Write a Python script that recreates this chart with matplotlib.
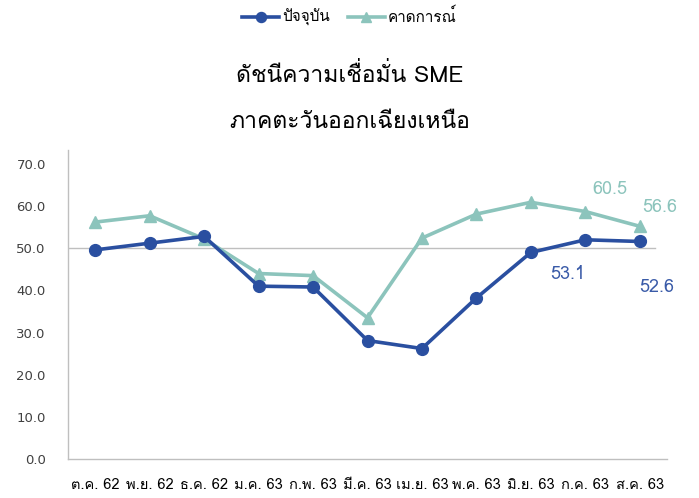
import matplotlib
matplotlib.use("Agg")
import matplotlib.pyplot as plt
from matplotlib import font_manager as fm

# ---------------- data ----------------
categories = ["ต.ค. 62", "พ.ย. 62", "ธ.ค. 62", "ม.ค. 63", "ก.พ. 63", "มี.ค. 63",
              "เม.ย. 63", "พ.ค. 63", "มิ.ย. 63", "ก.ค. 63", "ส.ค. 63"]
current = [49.6, 51.2, 52.8, 41.0, 40.8, 28.1, 26.2, 38.2, 49.0, 52.0, 51.6]
expected = [56.2, 57.7, 52.2, 44.0, 43.5, 33.5, 52.4, 58.1, 60.9, 58.7, 55.2]
current_labels = {9: "53.1", 10: "52.6"}
expected_labels = {9: "60.5", 10: "56.6"}
series_names = ["ปัจจุบัน", "คาดการณ์"]
title_lines = ["ดัชนีความเชื่อมั่น SME", "ภาคตะวันออกเฉียงเหนือ"]
yticks = [0, 10, 20, 30, 40, 50, 60, 70]

# label offsets (points) for data labels
current_offsets = {9: (-13, -24.5), 10: (12, -33)}
expected_offsets = {9: (18, 16), 10: (14.5, 14)}

# ---------------- font with Thai glyphs ----------------
thai_font = None
try:
    from fontTools.ttLib import TTFont
    cands = []
    for f in fm.fontManager.ttflist:
        try:
            tt = TTFont(f.fname, fontNumber=0, lazy=True)
            cmap = tt.getBestCmap()
            if cmap and 0x0E14 in cmap and 0x0E01 in cmap:
                cands.append(f)
        except Exception:
            pass
    def score(f):
        s = 0
        n = f.name.lower()
        if f.weight in (400, "normal", "regular"):
            s -= 5
        if f.style != "normal":
            s += 10
        if "mono" in n or ("serif" in n and "sans" not in n):
            s += 3
        if "looped" in n:
            s += 2
        return s
    cands.sort(key=score)
    if cands:
        thai_font = cands[0].name
except Exception:
    thai_font = None

families = ([thai_font] if thai_font else []) + ["DejaVu Sans"]
plt.rcParams["font.family"] = families

blue = "#2A4FA0"
teal = "#8CC4BC"
gray_txt = "#404040"

fig = plt.figure(figsize=(6.99, 4.98), dpi=100)
ax = fig.add_axes([68/699, 39/498, 599/699, 309/498])

x = list(range(len(categories)))
l1, = ax.plot(x, current, color=blue, lw=2.6, marker="o", markersize=8.5,
              label=series_names[0], zorder=4)
l2, = ax.plot(x, expected, color=teal, lw=2.6, marker="^", markersize=8.5,
              label=series_names[1], zorder=3)

ax.set_xlim(-0.5, len(categories) - 0.5)
ax.set_ylim(0, 73.3)
ax.set_yticks(yticks)
ax.set_yticklabels([f"{v:.1f}" for v in yticks], fontsize=9.5, color=gray_txt,
                   family="DejaVu Sans")
ax.set_xticks(x)
ax.set_xticklabels(categories, fontsize=10.5, color="#000000")
ax.tick_params(axis="both", length=0)
ax.tick_params(axis="y", pad=16)
ax.tick_params(axis="x", pad=14)

ax.axhline(50, color="#BFBFBF", lw=1.0, zorder=1, xmax=0.98)
for s in ["top", "right"]:
    ax.spines[s].set_visible(False)
for s in ["left", "bottom"]:
    ax.spines[s].set_color("#BFBFBF")
    ax.spines[s].set_linewidth(1.0)

for i, t in current_labels.items():
    ax.annotate(t, (i, current[i]), xytext=current_offsets[i], textcoords="offset points",
                ha="center", va="center", fontsize=13, color="#3A5BA8")
for i, t in expected_labels.items():
    ax.annotate(t, (i, expected[i]), xytext=expected_offsets[i], textcoords="offset points",
                ha="center", va="center", fontsize=13, color=teal)

fig.text(0.5, 1 - 75/498, title_lines[0], ha="center", va="center", fontsize=16.5, color="#000000")
fig.text(0.5, 1 - 123/498, title_lines[1], ha="center", va="center", fontsize=16.5, color="#000000")

fig.legend(handles=[l1, l2], loc="center", bbox_to_anchor=(0.5, 1 - 17/498), ncol=2,
           frameon=False, fontsize=11, handlelength=2.4, columnspacing=1.2,
           handletextpad=0.2, markerscale=0.85)

fig.savefig("out.png", dpi=100)
